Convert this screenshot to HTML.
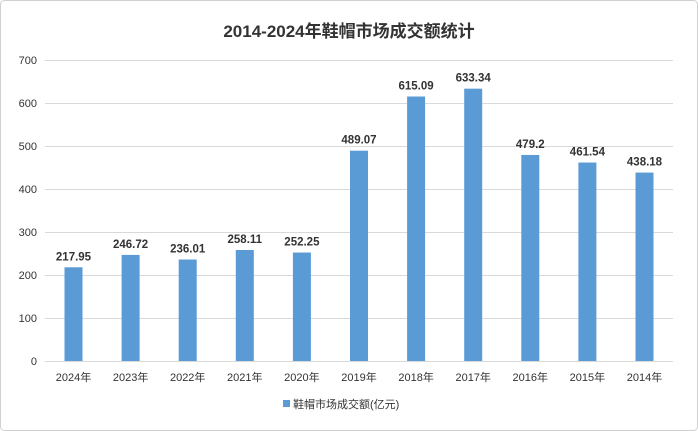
<!DOCTYPE html>
<html><head><meta charset="utf-8"><style>
html,body{margin:0;padding:0;background:#fff;}
svg{display:block;font-family:"Liberation Sans","Noto Sans CJK SC",sans-serif;}
</style></head><body>
<svg width="698" height="431" viewBox="0 0 698 431">
<rect x="0.5" y="0.5" width="697" height="430" rx="4" fill="#fff" stroke="#d0d0d0"/>
<text x="349" y="37" text-anchor="middle" font-size="17" font-weight="bold" fill="#333">2014-2024年鞋帽市场成交额统计</text>
<g stroke="#d9d9d9" stroke-width="1">
<line x1="45" x2="673" y1="60.5" y2="60.5"/>
<line x1="45" x2="673" y1="103.5" y2="103.5"/>
<line x1="45" x2="673" y1="146.5" y2="146.5"/>
<line x1="45" x2="673" y1="189.5" y2="189.5"/>
<line x1="45" x2="673" y1="232.5" y2="232.5"/>
<line x1="45" x2="673" y1="275.5" y2="275.5"/>
<line x1="45" x2="673" y1="318.5" y2="318.5"/>
<line x1="45" x2="673" y1="361.5" y2="361.5"/>
</g>
<g font-size="11" fill="#333" text-anchor="end">
<text x="37" y="64">700</text><text x="37" y="107">600</text><text x="37" y="150">500</text>
<text x="37" y="193">400</text><text x="37" y="236">300</text><text x="37" y="279">200</text>
<text x="37" y="322">100</text><text x="37" y="365">0</text>
</g>
<g fill="#5b9bd5" id="bars"></g>
<g id="lbl" font-size="11.5" font-weight="bold" fill="#333" text-anchor="middle"></g>
<g id="cat" font-size="11" fill="#333" text-anchor="middle"></g>
<rect x="283" y="400" width="7" height="7" fill="#5b9bd5"/>
<text x="293" y="408" font-size="11" fill="#333">鞋帽市场成交额(亿元)</text>
<script>
var v=[217.95,246.72,236.01,258.11,252.25,489.07,615.09,633.34,479.2,461.54,438.18];
var c=["2024年","2023年","2022年","2021年","2020年","2019年","2018年","2017年","2016年","2015年","2014年"];
var ns="http://www.w3.org/2000/svg",b=document.getElementById("bars"),l=document.getElementById("lbl"),k=document.getElementById("cat");
for(var i=0;i<11;i++){var cx=73.5+i*57.1,h=v[i]*0.43,y=361-h;
var r=document.createElementNS(ns,"rect");r.setAttribute("x",cx-9);r.setAttribute("y",y);r.setAttribute("width",18);r.setAttribute("height",h);b.appendChild(r);
var t=document.createElementNS(ns,"text");t.setAttribute("x",cx);t.setAttribute("y",y-7);t.textContent=String(v[i]);l.appendChild(t);
var t2=document.createElementNS(ns,"text");t2.setAttribute("x",cx);t2.setAttribute("y",381);t2.textContent=c[i];k.appendChild(t2);}
</script>
</svg>
</body></html>
